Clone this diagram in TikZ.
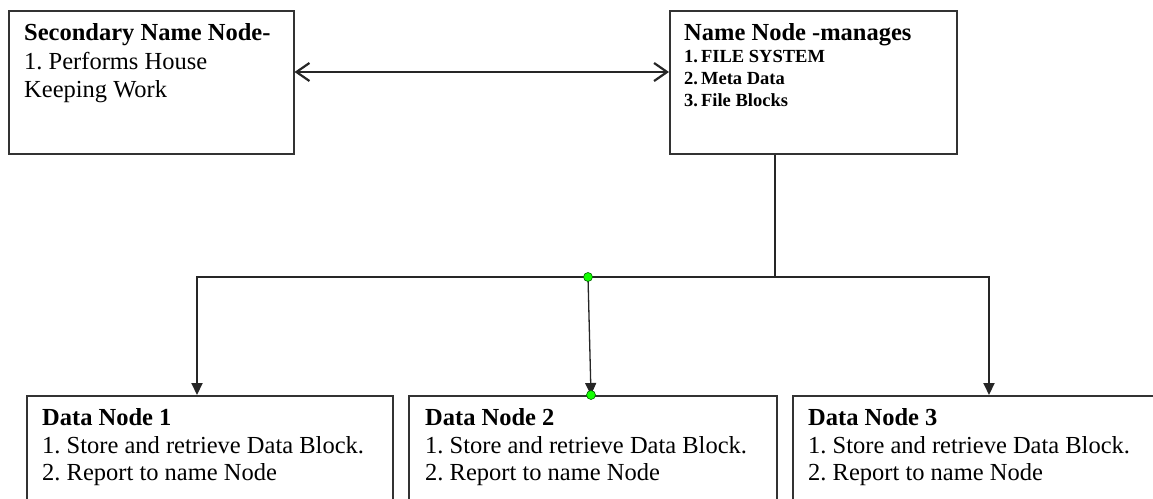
\documentclass[tikz,border=0pt]{standalone}
\usepackage{fontspec}
\setmainfont{Liberation Serif}
\usetikzlibrary{arrows.meta}

\tikzset{
  box/.style={draw=black!80, line width=1.5pt, rectangle, inner sep=0pt, anchor=north west},
  txt/.style={anchor=base west, inner sep=0pt, text=black},
  big/.style={font=\fontsize{24.5}{28}\selectfont},
  bigb/.style={font=\fontsize{24.5}{28}\selectfont\bfseries},
  titleb/.style={font=\fontsize{24.5}{28}\selectfont\bfseries},
  smallb/.style={font=\fontsize{18.5}{21}\selectfont\bfseries},
  conn/.style={draw=black!85, line width=2pt},
  thinconn/.style={draw=black!85, line width=1.3pt},
  downtip/.style={-{Triangle[length=12pt,width=11pt]}},
  bothtip/.style={{Straight Barb[length=13pt,width=18pt,line width=2.2pt]}-{Straight Barb[length=13pt,width=18pt,line width=2.2pt]}},
  dot/.style={circle, fill=green!90!lime, draw=green!40!black, line width=0.6pt, minimum size=9pt, inner sep=0pt},
}

\begin{document}
\begin{tikzpicture}[x=1pt,y=-1pt]
  \useasboundingbox (0,0) rectangle (1153,498);
  \clip (0,0) rectangle (1153,498);

  % boxes
  \node[box, minimum width=285pt, minimum height=143pt] (sec) at (8,10) {};
  \node[box, minimum width=287pt, minimum height=143pt] (nn)  at (669,10) {};
  \node[box, minimum width=366pt, minimum height=140pt] (dn1) at (26,395) {};
  \node[box, minimum width=368pt, minimum height=140pt] (dn2) at (408,395) {};
  \node[box, minimum width=380pt, minimum height=140pt] (dn3) at (792,395) {};

  % secondary name node text
  \node[txt, bigb] (secT) at (24,40) {Secondary Name Node-};
  \node[txt, big]  (secA) at (24,69) {1.~Performs House};
  \node[txt, big]  (secB) at (24,97) {Keeping Work};

  % name node text
  \node[txt, titleb] (nnT) at (684,40) {Name Node -manages};
  \node[txt, smallb] (nnA) at (684,62) {1.\,FILE SYSTEM};
  \node[txt, smallb] (nnB) at (684,84) {2.\,Meta Data};
  \node[txt, smallb] (nnC) at (684,106) {3.\,File Blocks};

  % data node texts
  \foreach \n/\x in {1/42, 2/425, 3/808}{
    \node[txt, bigb] (dn\n T) at (\x,425) {Data Node \n};
    \node[txt, big]  (dn\n A) at (\x,453) {1.~Store and retrieve Data Block.};
    \node[txt, big]  (dn\n B) at (\x,480) {2.~Report to name Node};
  }

  % connectors
  \draw[conn, bothtip] (sec.east |- 0,72) -- (nn.west |- 0,72);

  \coordinate (split) at (775,277);
  \coordinate (tap) at (588,277);
  \coordinate (dn2in) at (591,395);
  \draw[conn] (split |- nn.south) -- (split);
  \draw[conn, downtip] (split) -| (dn1.north -| 197,0);
  \draw[conn, downtip] (split) -| (dn3.north -| 989,0);
  \draw[thinconn, downtip] (tap) -- (dn2in);

  \node[dot] (tapdot) at (tap) {};
  \node[dot] (dn2dot) at (dn2in) {};
\end{tikzpicture}
\end{document}
